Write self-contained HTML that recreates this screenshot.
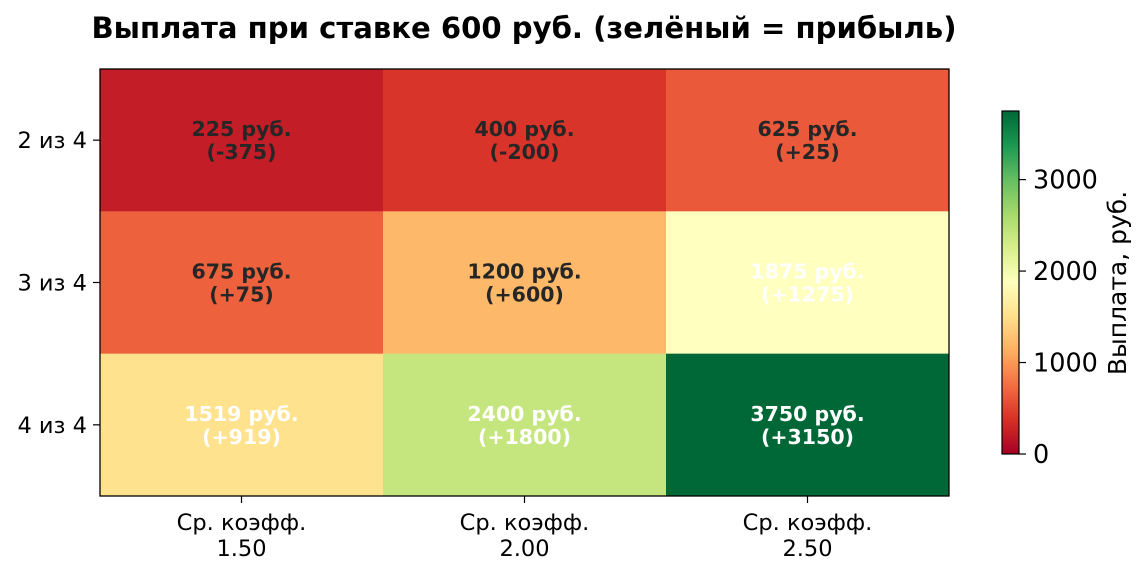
<!DOCTYPE html>
<html><head><meta charset="utf-8"><style>
body{margin:0;background:#fff;font-family:"Liberation Sans","DejaVu Sans",sans-serif;}
</style></head><body>
<svg id="c" width="1145" height="576" xmlns="http://www.w3.org/2000/svg">
<defs><linearGradient id="cg" x1="0" y1="1" x2="0" y2="0"></linearGradient></defs>
<text x="524" y="38" text-anchor="middle" font-size="29" font-weight="bold" fill="#000" font-family="DejaVu Sans, sans-serif" textLength="865" lengthAdjust="spacingAndGlyphs">Выплата при ставке 600 руб. (зелёный = прибыль)</text>
<g id="cells"></g>
<rect x="100" y="69" width="849" height="427" fill="none" stroke="#000" stroke-width="1.3"/>
<g id="axes" font-family="DejaVu Sans, sans-serif" font-size="22.5" fill="#000"></g>
<g id="cbar"></g>
</svg>
<script>
const xLabels=["1.50","2.00","2.50"];
const yLabels=["2 из 4","3 из 4","4 из 4"];
const payouts=[[225,400,625],[675,1200,1875],[1519,2400,3750]];
const stake=600;
const vmax=3750;
const cbTicks=[0,1000,2000,3000];
const stops=["#a50026","#d73027","#f46d43","#fdae61","#fee08b","#ffffbf","#d9ef8b","#a6d96a","#66bd63","#1a9850","#006837"];
const NS="http://www.w3.org/2000/svg";
function hx(h){return [1,3,5].map(i=>parseInt(h.substr(i,2),16));}
function cmap(v){let t=Math.max(0,Math.min(1,v/vmax))*10;let i=Math.min(9,Math.floor(t));let f=t-i;let a=hx(stops[i]),b=hx(stops[i+1]);return "rgb("+a.map((x,k)=>Math.round(x+(b[k]-x)*f)).join(",")+")";}
const X0=100,Y0=69,W=849,H=427;
const cw=W/xLabels.length,ch=H/yLabels.length;
const xs=i=>X0+i*cw, ys=j=>Y0+j*ch;
function mk(tag,attrs,parent){const e=document.createElementNS(NS,tag);for(const k in attrs)e.setAttribute(k,attrs[k]);parent.appendChild(e);return e;}
const cells=document.getElementById('cells');
payouts.forEach((row,j)=>row.forEach((v,i)=>{
 const r=mk('rect',{x:xs(i),y:ys(j),width:cw+0.5,height:ch+0.5,fill:cmap(v)},cells);
 
 
 const col=v>1500?"#fff":"#262626";
 const d=v-stake;
 const t1=mk('text',{x:xs(i)+cw/2,y:ys(j)+ch/2-4,'text-anchor':'middle','font-size':20.5,'font-weight':'bold',fill:col,'font-family':'DejaVu Sans, sans-serif'},cells);
 t1.textContent=v+" руб.";
 
 
 const t2=mk('text',{x:xs(i)+cw/2,y:ys(j)+ch/2+19,'text-anchor':'middle','font-size':20.5,'font-weight':'bold',fill:col,'font-family':'DejaVu Sans, sans-serif'},cells);
 t2.textContent="("+(d>=0?"+":"")+d+")";
 
 
}));
const ax=document.getElementById('axes');
xLabels.forEach((l,i)=>{
 const cx=xs(i)+cw/2;
 mk('line',{x1:cx,x2:cx,y1:496,y2:503,stroke:'#000','stroke-width':1.2},ax);
 const t=mk('text',{x:cx,y:530,'text-anchor':'middle'},ax);t.textContent="Ср. коэфф.";
 
 
 const t2=mk('text',{x:cx,y:556,'text-anchor':'middle'},ax);t2.textContent=l;
 
 
});
yLabels.forEach((l,j)=>{
 const cy=ys(j)+ch/2;
 mk('line',{x1:93,x2:100,y1:cy,y2:cy,stroke:'#000','stroke-width':1.2},ax);
 const t=mk('text',{x:87,y:cy+8,'text-anchor':'end'},ax);t.textContent=l;
 
 
});
const g=document.getElementById('cg');
stops.forEach((s,k)=>mk('stop',{offset:k/10,'stop-color':s},g));
const cb=document.getElementById('cbar');
const CBX=1002,CBW=17,CBT=111,CBB=454;
const cy=v=>CBB-(v/vmax)*(CBB-CBT);
const r=mk('rect',{x:CBX,y:CBT,width:CBW,height:CBB-CBT,fill:'url(#cg)',stroke:'#000','stroke-width':1.2},cb);


cbTicks.forEach(v=>{
 mk('line',{x1:CBX+CBW,x2:CBX+CBW+7,y1:cy(v),y2:cy(v),stroke:'#000','stroke-width':1.2},cb);
 const t=mk('text',{x:1033,y:cy(v)+9,'font-size':25.5,'font-family':'DejaVu Sans, sans-serif'},cb);t.textContent=v;
 
 
});
const lt=mk('text',{x:0,y:0,'font-size':25,'text-anchor':'middle','font-family':'DejaVu Sans, sans-serif',transform:'translate(1126,283) rotate(-90)'},cb);
lt.textContent="Выплата, руб.";


</script>
</body></html>
